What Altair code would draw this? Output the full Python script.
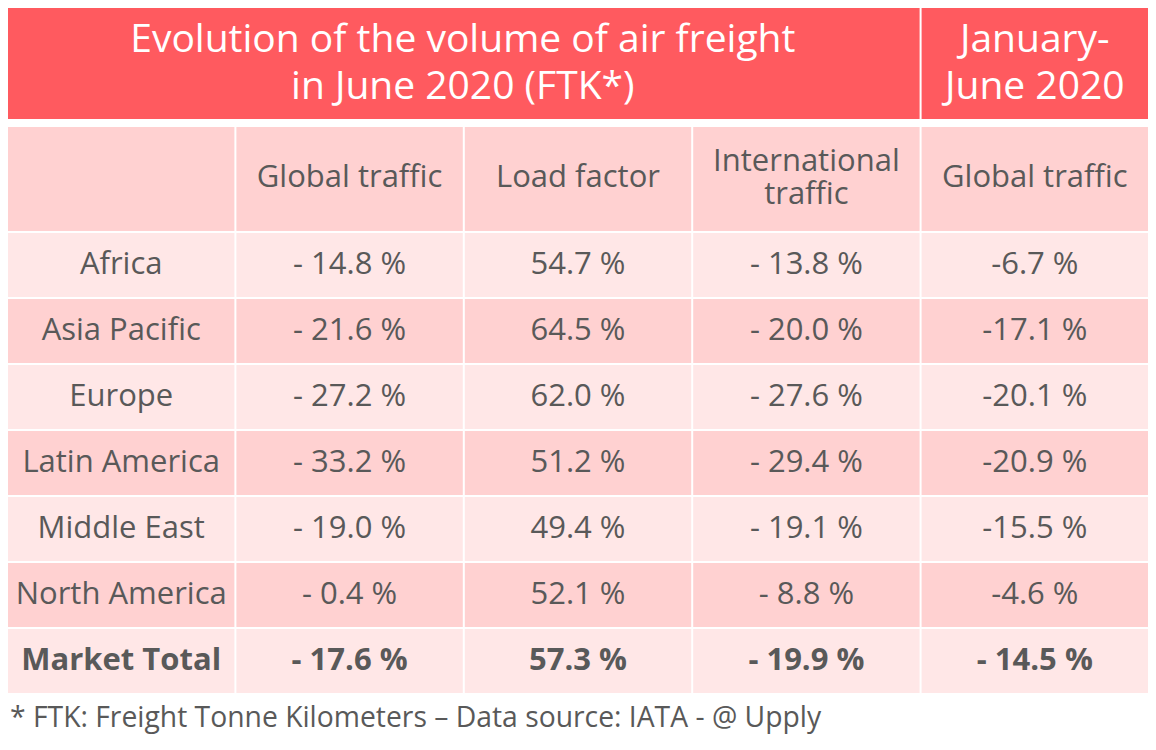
import altair as alt
import pandas as pd

# ---------------- data ----------------
regions = ["Africa", "Asia Pacific", "Europe", "Latin America",
           "Middle East", "North America", "Market Total"]
global_traffic = [-14.8, -21.6, -27.2, -33.2, -19.0, -0.4, -17.6]
load_factor = [54.7, 64.5, 62.0, 51.2, 49.4, 52.1, 57.3]
international_traffic = [-13.8, -20.0, -27.6, -29.4, -19.1, -8.8, -19.9]
ytd_global_traffic = [-6.7, -17.1, -20.1, -20.9, -15.5, -4.6, -14.5]

column_keys = ["region", "global", "load", "intl", "ytd"]
column_headers = ["", "Global traffic", "Load factor", "International\ntraffic", "Global traffic"]
title_june = "Evolution of the volume of air freight\nin June 2020 (FTK*)"
title_ytd = "January-\nJune 2020"
footnote = "* FTK: Freight Tonne Kilometers \u2013 Data source: IATA - @ Upply"

# ---------------- style ----------------
FONT = "Open Sans"
RED = "#FF5A5F"
HEAD_BG = "#FFD1D1"
LIGHT = "#FFE7E7"
DARK = "#FFD1D1"
TXT = "#595959"
W = 1140
BODY_H = 460
FS = 31
TITLE_FS = 39
TITLE_LH = 47
HEAD_LH = 33


def fmt(v, spaced):
    if v < 0:
        return ("- " if spaced else "-") + f"{abs(v):.1f} %"
    return f"{v:.1f} %"


rows = []
for i, r in enumerate(regions):
    total = r == "Market Total"
    vals = {
        "region": r,
        "global": fmt(global_traffic[i], True),
        "load": fmt(load_factor[i], True),
        "intl": fmt(international_traffic[i], True),
        "ytd": fmt(ytd_global_traffic[i], total),
    }
    for k in column_keys:
        rows.append({"row": r, "col": k, "label": vals[k],
                     "shade": "light" if i % 2 == 0 else "dark",
                     "bold": total})
body_df = pd.DataFrame(rows)

p_x = 10 / (W + 2)
xscale = alt.Scale(type="band", domain=column_keys, paddingInner=p_x, paddingOuter=0)
p_y = 14 / (BODY_H + 2)
yscale = alt.Scale(type="band", domain=regions, paddingInner=p_y, paddingOuter=0)

# ---------------- title band ----------------
title_df = pd.DataFrame([
    {"start": "region", "end": "intl", "mid": "global", "text": title_june, "part": "june"},
    {"start": "ytd", "end": "ytd", "mid": "ytd", "text": title_ytd, "part": "ytd"},
])
t_base = alt.Chart(title_df)
t_rect = t_base.mark_rect(color=RED).encode(
    x=alt.X("start:N", scale=xscale, axis=None, bandPosition=0),
    x2=alt.X2("end:N", bandPosition=1),
)
t_text1 = t_base.transform_filter(alt.datum.part == "june").mark_text(
    font=FONT, fontSize=TITLE_FS, color="white", lineBreak="\n", lineHeight=TITLE_LH,
    baseline="middle", align="center", dx=0, dy=-TITLE_LH / 2
).encode(
    x=alt.X("mid:N", scale=xscale, axis=None, bandPosition=1),
    text="text:N",
)
t_text2 = t_base.transform_filter(alt.datum.part == "ytd").mark_text(
    font=FONT, fontSize=TITLE_FS, color="white", lineBreak="\n", lineHeight=TITLE_LH,
    baseline="middle", align="center", dy=-TITLE_LH / 2
).encode(
    x=alt.X("mid:N", scale=xscale, axis=None),
    text="text:N",
)
title_chart = alt.layer(t_rect, t_text1, t_text2).properties(width=W, height=111)

# ---------------- column header row ----------------
head_df = pd.DataFrame({"col": column_keys, "label": column_headers})
head_df["multi"] = head_df["label"].str.contains("\n")
h_base = alt.Chart(head_df)
h_rect = h_base.mark_rect(color=HEAD_BG).encode(
    x=alt.X("col:N", scale=xscale, axis=None),
)
h_text1 = h_base.transform_filter(alt.datum.multi == False).mark_text(
    font=FONT, fontSize=FS, color=TXT, baseline="middle", align="center", dy=-1
).encode(
    x=alt.X("col:N", scale=xscale, axis=None),
    text="label:N",
)
h_text2 = h_base.transform_filter(alt.datum.multi == True).mark_text(
    font=FONT, fontSize=FS, color=TXT, lineBreak="\n", lineHeight=HEAD_LH,
    baseline="middle", align="center", dy=-HEAD_LH / 2 - 1
).encode(
    x=alt.X("col:N", scale=xscale, axis=None),
    text="label:N",
)
header_chart = alt.layer(h_rect, h_text1, h_text2).properties(width=W, height=104)

# ---------------- body ----------------
b_base = alt.Chart(body_df)
b_rect = b_base.mark_rect().encode(
    x=alt.X("col:N", scale=xscale, axis=None),
    y=alt.Y("row:N", scale=yscale, axis=None),
    color=alt.Color("shade:N", scale=alt.Scale(domain=["light", "dark"], range=[LIGHT, DARK]), legend=None),
)
b_text = b_base.transform_filter(alt.datum.bold == False).mark_text(
    font=FONT, fontSize=FS, color=TXT, baseline="middle", align="center"
).encode(
    x=alt.X("col:N", scale=xscale, axis=None),
    y=alt.Y("row:N", scale=yscale, axis=None),
    text="label:N",
)
b_bold = b_base.transform_filter(alt.datum.bold == True).mark_text(
    font=FONT, fontSize=FS, color=TXT, baseline="middle", align="center", fontWeight="bold"
).encode(
    x=alt.X("col:N", scale=xscale, axis=None),
    y=alt.Y("row:N", scale=yscale, axis=None),
    text="label:N",
)
body_chart = alt.layer(b_rect, b_text, b_bold).properties(width=W, height=BODY_H)

chart = alt.vconcat(
    title_chart,
    alt.vconcat(header_chart, body_chart, spacing=2),
    spacing=8,
).properties(
    padding={"left": 0, "top": 0, "right": 0, "bottom": 4},
    title=alt.TitleParams(
        text=footnote, orient="bottom", anchor="start", font=FONT, fontSize=28.3,
        fontWeight="normal", color=TXT, offset=12, dx=2
    ),
).configure_view(stroke=None)

chart.save("out.html", embed_options={"renderer": "svg", "actions": False})
